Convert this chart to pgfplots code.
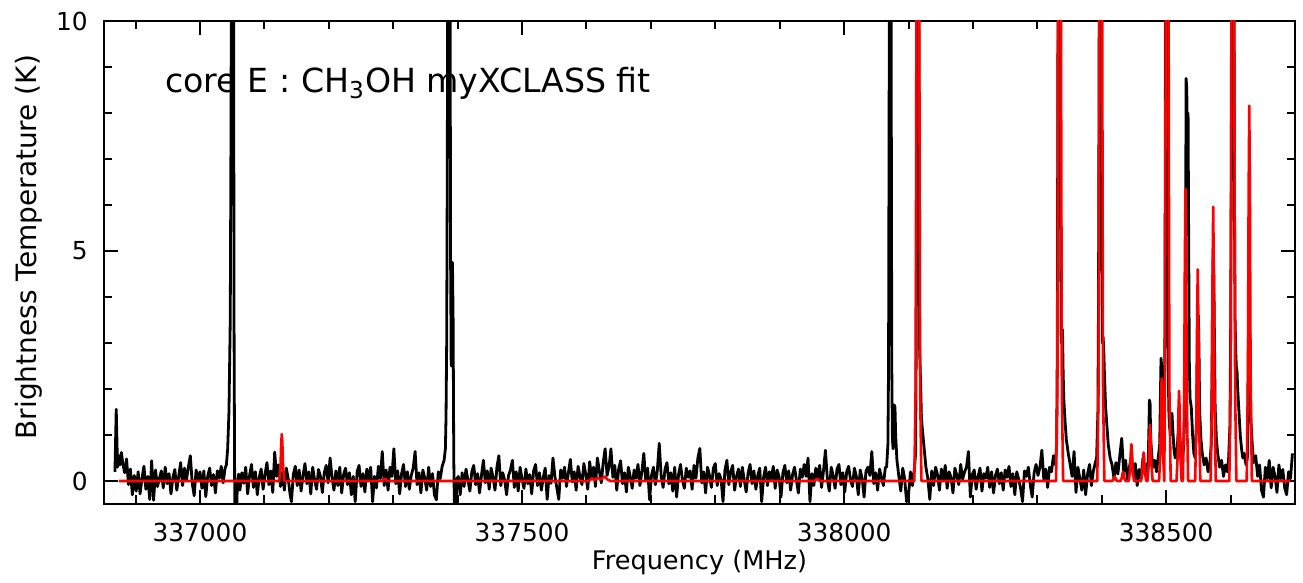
\documentclass[border=0pt]{standalone}
\usepackage{fontspec}
\setmainfont{DejaVu Sans}
\usepackage{pgfplots}
\pgfplotsset{compat=1.18}
\begin{document}
\begin{tikzpicture}
\begin{axis}[
  scale only axis, width=595.5pt, height=241.5pt,
  xmin=336851, xmax=338700, ymin=-0.5, ymax=10,
  scaled x ticks=false, scaled y ticks=false,
  xtick={337000,337500,338000,338500},
  xticklabels={337000,337500,338000,338500},
  minor xtick={336900,337100,337200,337300,337400,337600,337700,337800,337900,338100,338200,338300,338400,338600},
  ytick={0,5,10}, yticklabels={0,5,10},
  minor ytick={1,2,3,4,6,7,8,9},
  tick align=inside,
  major tick length=7pt, minor tick length=4.25pt,
  every tick/.style={black, line width=1pt},
  axis line style={line width=1pt},
  tick label style={font=\fontsize{12.4}{14}\selectfont, inner sep=0pt},
  xticklabel style={anchor=center, yshift=-14pt},
  yticklabel style={anchor=east, xshift=-8pt},
  label style={font=\fontsize{12.8}{15}\selectfont, inner sep=0pt},
  xlabel={Frequency (MHz)},
  xlabel style={at={(axis description cs:0.5,-0.1366)}, anchor=base},
  ylabel={Brightness Temperature (K)},
  ylabel style={at={(axis description cs:-0.0563,0.532)}, anchor=base, font=\fontsize{14}{16}\selectfont},
  clip=true,
]
\addplot[black, line width=1.4pt, line join=round] coordinates {
(336868,0.20) (336870,1.56) (336872,0.30) (336874,0.55) (336876,0.35) (336878,0.62) (336880,0.40) (336883,0.18) (336886,0.48) (336889,-0.08)
(336892,0.26) (336895,-0.30) (336898,0.12) (336901,-0.22) (336904,0.20) (336907,-0.28) (336910,0.06) (336913,0.32) (336916,-0.18) (336919,0.10)
(336922,-0.40) (336925,0.44) (336928,-0.42) (336931,0.24) (336934,-0.12) (336937,0.05) (336940,0.22) (336943,-0.15) (336946,0.30) (336949,-0.06)
(336952,0.16) (336955,-0.28) (336958,0.08) (336961,0.25) (336964,-0.20) (336967,0.10) (336970,0.40) (336973,-0.10) (336976,0.28) (336979,0.02)
(336982,0.30) (336985,0.55) (336988,-0.05) (336991,-0.32) (336994,0.24) (336997,0.00) (337000,0.20) (337003,-0.16) (337006,0.22) (337009,-0.34)
(337012,0.10) (337015,0.28) (337018,-0.10) (337021,0.14) (337024,-0.26) (337027,0.22) (337030,0.06) (337033,0.32) (337036,-0.04) (337039,0.28)
(337041,0.35) (337043,0.70) (337045,1.5) (337047,3.5) (337048,7) (337049,12) (337050,16) (337051,16) (337052,12) (337053,3)
(337054,-0.6) (337055,-0.7) (337056,-0.65) (337057,-0.6) (337058,-0.1) (337060,0.15)
(337062,-0.20) (337065,0.18) (337068,-0.05) (337071,0.30) (337074,-0.28) (337077,0.12) (337080,0.36) (337083,-0.14) (337086,0.20) (337089,-0.30)
(337092,0.08) (337095,0.26) (337098,-0.18) (337101,0.15) (337104,0.40) (337107,-0.08) (337110,0.22) (337113,-0.25) (337116,0.63) (337119,0.10)
(337122,0.35) (337125,-0.12) (337128,0.20) (337131,-0.20) (337134,0.28) (337137,0.05) (337140,-0.30) (337142,-0.45) (337145,0.15) (337148,0.32)
(337151,-0.10) (337154,0.24) (337157,-0.22) (337160,0.12) (337163,0.38) (337166,-0.06) (337169,0.20) (337172,-0.28) (337175,0.30) (337178,0.02)
(337181,-0.18) (337184,0.25) (337187,0.10) (337190,-0.25) (337193,0.18) (337196,0.34) (337199,-0.04) (337202,0.50) (337205,0.08) (337208,-0.20)
(337211,0.22) (337214,-0.10) (337217,0.30) (337220,-0.26) (337223,0.14) (337226,0.28) (337229,-0.08) (337232,0.18) (337235,-0.30) (337238,0.10)
(337241,-0.45) (337244,0.20) (337247,0.34) (337250,-0.12) (337253,0.16) (337256,-0.24) (337259,0.26) (337262,0.04) (337265,0.30) (337268,-0.45)
(337271,0.10) (337274,-0.15) (337277,0.32) (337280,0.05) (337283,0.64) (337286,-0.10) (337289,0.24) (337292,-0.20) (337295,0.30) (337298,0.10)
(337301,0.70) (337304,-0.06) (337307,0.22) (337310,-0.28) (337313,0.16) (337316,0.36) (337319,-0.12) (337322,0.20) (337325,-0.18) (337328,0.12)
(337331,0.28) (337334,0.64) (337337,-0.08) (337340,0.18) (337343,-0.26) (337346,0.24) (337349,0.06) (337352,-0.20) (337355,0.30) (337358,-0.12)
(337361,0.16) (337364,-0.30) (337367,-0.41) (337370,0.20) (337373,0.05) (337376,0.32) (337379,0.45)
(337381,0.7) (337382,1.4) (337383,3) (337384,7) (337385,14) (337386,16) (337387,16) (337388,14) (337389,5) (337390,2.5)
(337391,4) (337392,4.75) (337393,3.5) (337394,0.5) (337395,-0.6) (337396,-0.7) (337397,-0.7) (337398,-0.3) (337399,0.05)
(337401,0.10) (337404,-0.30) (337407,0.18) (337410,-0.12) (337413,0.26) (337416,0.02) (337419,-0.22) (337422,0.20) (337425,0.34) (337428,-0.08)
(337431,0.16) (337434,-0.26) (337437,0.12) (337440,0.45) (337443,-0.04) (337446,0.22) (337449,-0.18) (337452,0.28) (337455,0.08) (337458,-0.20)
(337461,0.30) (337464,0.55) (337467,-0.10) (337470,0.18) (337473,0.02) (337476,-0.30) (337479,0.12) (337482,0.24) (337485,0.45) (337488,-0.14)
(337491,0.20) (337494,-0.22) (337497,0.30) (337500,0.04) (337503,-0.16) (337506,0.26) (337509,-0.06) (337512,0.14) (337515,-0.28) (337518,0.22)
(337521,0.36) (337524,-0.10) (337527,0.18) (337530,-0.20) (337533,0.08) (337536,0.28) (337539,-0.40) (337542,0.12) (337545,-0.05) (337548,0.50)
(337551,0.10) (337554,-0.15) (337557,-0.40) (337560,0.24) (337563,0.06) (337566,0.30) (337569,-0.12) (337572,0.18) (337575,0.47) (337578,-0.02)
(337581,0.20) (337584,-0.20) (337587,0.32) (337590,0.10) (337593,-0.08) (337596,0.38) (337599,0.14) (337602,-0.18) (337605,0.42) (337608,0.06)
(337611,0.30) (337614,-0.12) (337617,0.50) (337620,0.22) (337623,-0.04) (337626,0.40) (337629,0.70) (337632,0.12) (337635,0.30) (337638,0.70)
(337641,0.08) (337644,0.34) (337647,-0.20) (337650,0.26) (337653,0.44) (337656,-0.06) (337659,0.18) (337662,-0.24) (337665,0.30) (337668,0.10)
(337671,-0.16) (337674,0.24) (337677,0.06) (337680,0.36) (337683,-0.10) (337686,0.20) (337689,0.60) (337692,0.02) (337695,0.28) (337698,-0.41)
(337701,0.12) (337704,0.30) (337707,-0.08) (337710,0.22) (337713,0.82) (337716,0.10) (337719,-0.14) (337722,0.26) (337725,0.40) (337728,-0.06)
(337731,0.18) (337734,-0.22) (337737,0.30) (337740,-0.35) (337743,0.14) (337746,0.36) (337749,0.02) (337752,-0.16) (337755,0.28) (337758,0.08)
(337761,0.22) (337764,-0.18) (337767,0.34) (337770,0.06) (337773,0.50) (337776,0.71) (337779,-0.04) (337782,0.20) (337785,-0.26) (337788,0.30)
(337791,0.12) (337794,-0.14) (337797,0.28) (337800,0.38) (337803,-0.10) (337806,0.16) (337809,0.04) (337812,-0.45) (337815,0.24) (337818,0.45)
(337821,-0.08) (337824,0.20) (337827,0.34) (337830,-0.20) (337833,0.10) (337836,0.26) (337839,-0.12) (337842,0.30) (337845,0.02) (337848,-0.24)
(337851,0.18) (337854,0.36) (337857,-0.06) (337860,0.22) (337863,-0.18) (337866,0.12) (337869,0.28) (337872,-0.45) (337875,0.08) (337878,0.30)
(337881,-0.10) (337884,0.20) (337887,0.04) (337890,0.32) (337893,-0.16) (337896,0.24) (337899,0.10) (337902,-0.35) (337905,0.18) (337908,0.34)
(337911,-0.04) (337914,0.22) (337917,-0.20) (337920,0.14) (337923,0.30) (337926,0.02) (337929,-0.26) (337932,0.26) (337935,0.08) (337938,0.36)
(337941,0.10) (337944,0.50) (337947,-0.45) (337950,0.16) (337953,-0.10) (337956,0.28) (337959,0.06) (337962,0.34) (337965,-0.14) (337968,0.22)
(337971,0.67) (337974,0.04) (337977,-0.22) (337980,0.30) (337983,0.12) (337986,-0.16) (337989,0.26) (337992,0.36) (337995,-0.08) (337998,0.18)
(338001,-0.24) (338004,0.20) (338007,0.32) (338010,0.02) (338013,-0.12) (338016,0.28) (338019,0.10) (338022,-0.30) (338025,0.24) (338028,0.06)
(338031,-0.35) (338034,0.22) (338037,0.30) (338040,0.12) (338043,0.64) (338046,-0.06) (338049,0.18) (338052,-0.20) (338055,0.26) (338058,0.08)
(338061,-0.10) (338064,0.30)
(338066,0.30) (338068,0.80) (338069,2.5) (338070,9) (338071,16) (338072,16) (338073,10) (338074,2.5) (338075,0.9) (338076,0.7)
(338077,1.2) (338078,1.65) (338079,1.6) (338080,1.0) (338082,0.45)
(338085,0.10) (338088,-0.22) (338091,0.28) (338094,0.05) (338097,-0.45) (338100,-0.30) (338103,0.20) (338106,-0.10) (338109,0.25)
(338111,0.6) (338112,3) (338113,10) (338114,16) (338115,16) (338116,10) (338117,3) (338118,2.5) (338119,2.0) (338120,1.4)
(338121,1.2) (338123,0.9) (338125,0.6) (338127,0.30)
(338130,0.05) (338133,-0.40) (338136,0.22) (338139,-0.10) (338142,0.30) (338145,0.14) (338148,-0.20) (338151,0.26) (338154,0.02) (338157,0.34)
(338160,-0.16) (338163,0.20) (338166,0.08) (338169,-0.26) (338172,0.28) (338175,0.12) (338178,-0.08) (338181,0.36) (338184,0.04) (338187,0.20)
(338190,0.30) (338193,0.64) (338196,-0.35) (338199,0.14) (338202,0.24) (338205,-0.18) (338208,0.10) (338211,0.28) (338214,-0.22) (338217,0.16)
(338220,0.06) (338223,0.30) (338226,-0.14) (338229,0.20) (338232,-0.26) (338235,0.12) (338238,0.26) (338241,-0.06) (338244,0.18) (338247,-0.20)
(338250,0.24) (338253,0.08) (338256,0.32) (338259,-0.12) (338262,0.16) (338265,-0.30) (338268,0.20) (338271,0.04) (338274,-0.16) (338277,-0.45)
(338280,0.22) (338283,0.10) (338286,0.30) (338289,-0.08) (338292,-0.35) (338295,0.18) (338298,0.36) (338301,0.12) (338304,0.30) (338307,0.67)
(338310,0.04) (338313,0.26) (338316,-0.14) (338319,0.30) (338322,0.20) (338325,0.55)
(338328,0.35) (338330,0.8) (338331,3) (338332,10) (338333,16) (338334,16) (338335,10) (338336,6) (338337,3) (338338,3.0)
(338339,3.3) (338340,2.4) (338341,1.8) (338343,1.3) (338345,0.9) (338348,0.6) (338351,0.35)
(338354,0.10) (338357,0.64) (338360,-0.25) (338363,0.30) (338366,0.05) (338369,-0.20) (338372,0.24) (338375,-0.30) (338378,0.15) (338381,0.36)
(338384,-0.10) (338387,0.22) (338390,0.40)
(338392,0.5) (338394,1.5) (338395,4) (338396,10) (338397,16) (338398,16) (338399,14) (338400,5) (338401,3.0) (338402,3.14)
(338403,2.9) (338404,2.4) (338405,2.0) (338406,1.6) (338408,1.2) (338410,0.8) (338413,0.5)
(338416,0.35) (338419,0.05) (338422,0.40) (338425,0.15) (338428,0.55) (338431,0.93) (338434,0.20) (338437,0.45) (338440,0.02) (338443,0.30)
(338446,0.55) (338449,0.10) (338452,0.38) (338455,-0.10) (338458,0.25) (338461,0.05) (338464,0.50) (338467,0.15) (338470,0.35)
(338472,0.4) (338473,1.0) (338474,1.76) (338475,1.7) (338476,0.9) (338478,0.5) (338480,0.3) (338482,0.45) (338485,0.20) (338488,0.55)
(338490,0.8) (338491,1.8) (338492,2.67) (338493,2.5) (338494,1.2) (338495,0.8)
(338497,0.9) (338498,3) (338499,10) (338500,16) (338501,16) (338502,10) (338503,3) (338504,1.6) (338505,1.2)
(338507,1.0) (338509,1.47) (338510,1.2) (338512,0.7) (338514,0.5) (338516,0.55) (338518,0.9) (338520,1.3) (338521,1.0) (338523,0.6)
(338525,0.5) (338527,0.7) (338529,1.5) (338530,5) (338531,8.75) (338532,8.5) (338533,7.0) (338534,8.0) (338535,5) (338536,2.5)
(338537,1.8) (338539,1.6) (338541,1.0) (338543,0.6) (338545,0.5) (338547,1.2) (338548,2.5) (338549,3.5) (338550,3.6) (338551,2.8)
(338552,1.5) (338554,0.9) (338556,0.6) (338559,0.35) (338562,0.5) (338565,0.2) (338568,0.40)
(338570,0.8) (338571,2) (338572,4) (338573,4.87) (338574,4.5) (338575,3) (338576,1.6) (338578,0.9) (338580,0.6) (338583,0.3)
(338586,0.45) (338589,0.1) (338592,0.35) (338595,0.2) (338597,0.5)
(338599,1.2) (338600,3) (338601,6.37) (338602,12) (338603,16) (338604,16) (338605,12) (338606,6) (338607,3.5) (338608,2.8)
(338609,2.47) (338610,2.4) (338611,2.0) (338613,1.5) (338615,1.0) (338617,0.7) (338619,0.5) (338621,0.6) (338624,0.35) (338626,0.5)
(338627,1.5) (338628,4) (338629,5.1) (338630,3) (338631,1.5) (338632,1.2) (338634,0.7) (338636,0.4)
(338639,0.55) (338642,0.10) (338645,0.35) (338648,-0.20) (338651,-0.35) (338654,0.30) (338657,0.05) (338660,0.45) (338663,-0.15) (338666,0.30)
(338669,0.10) (338672,-0.25) (338675,0.35) (338678,0.05) (338681,0.25) (338684,-0.15) (338687,-0.30) (338690,0.20) (338693,0.05) (338696,0.60)
};
\addplot[red, line width=1.3pt, line join=round] coordinates {
(336874,0)
(337123,0) (337125,0.3) (337126,0.77) (337127,1.02) (337128,0.77) (337129,0.3) (337131,0)
(337283,0) (337287,0.05) (337291,0)
(337604,0) (337608,0.06) (337612,0.02) (337618,0.07) (337622,0.03) (337628,0.10) (337632,0.04) (337637,0)
(337954,0) (337958,0.05) (337962,0)
(338109,0) (338111,2) (338112,8) (338113,20) (338114,30) (338115,30) (338116,20) (338117,8) (338118,2) (338120,0)
(338329,0) (338331,2) (338332,8) (338333,20) (338334,30) (338335,30) (338336,20) (338337,8) (338338,2) (338340,0)
(338393,0) (338395,2) (338396,8) (338397,20) (338398,30) (338399,30) (338400,20) (338401,8) (338402,2) (338404,0)
(338416,0) (338418,0.03) (338419,0.07) (338420,0.1) (338421,0.07) (338422,0.03) (338424,0)
(338429,0) (338431,0.06) (338432,0.15) (338433,0.2) (338434,0.15) (338435,0.06) (338437,0)
(338442,0) (338444,0.24) (338445,0.6) (338446,0.8) (338447,0.6) (338448,0.24) (338450,0)
(338461,0) (338463,0.19) (338464,0.47) (338465,0.62) (338466,0.47) (338467,0.19) (338469,0)
(338471,0) (338473,0.37) (338474,0.92) (338475,1.22) (338476,0.92) (338477,0.37) (338479,0)
(338489,0) (338491,0.67) (338492,1.7) (338493,2.23) (338494,1.7) (338495,0.67) (338497,0)
(338498,2) (338499,8) (338500,20) (338501,30) (338502,30) (338503,20) (338504,8) (338505,2) (338507,0)
(338516,0) (338518,0.59) (338519,1.5) (338520,1.96) (338521,1.5) (338522,0.59) (338524,0)
(338526,0) (338528,1.9) (338529,4.8) (338530,6.35) (338531,4.8) (338532,1.9) (338534,0)
(338545,0) (338547,1.38) (338548,3.5) (338549,4.6) (338550,3.5) (338551,1.38) (338553,0)
(338569,0) (338571,1.8) (338572,4.5) (338573,5.96) (338574,4.5) (338575,1.8) (338577,0)
(338598,0) (338600,2) (338601,8) (338602,20) (338603,30) (338604,30) (338605,20) (338606,8) (338607,2) (338609,0)
(338625,0) (338627,2.45) (338628,6.2) (338629,8.16) (338630,6.2) (338631,2.45) (338633,0)
(338693,0)
};
\node[anchor=base west, inner sep=0pt, font=\fontsize{16.6}{20}\selectfont] at (axis description cs:0.0512,0.851) {core E : CH\textsubscript{3}OH myXCLASS fit};
\end{axis}
\pgfresetboundingbox
\path[use as bounding box] ([xshift=-52pt,yshift=-39.5pt]current axis.south west) rectangle ([xshift=4pt,yshift=10.5pt]current axis.north east);
\end{tikzpicture}
\end{document}
